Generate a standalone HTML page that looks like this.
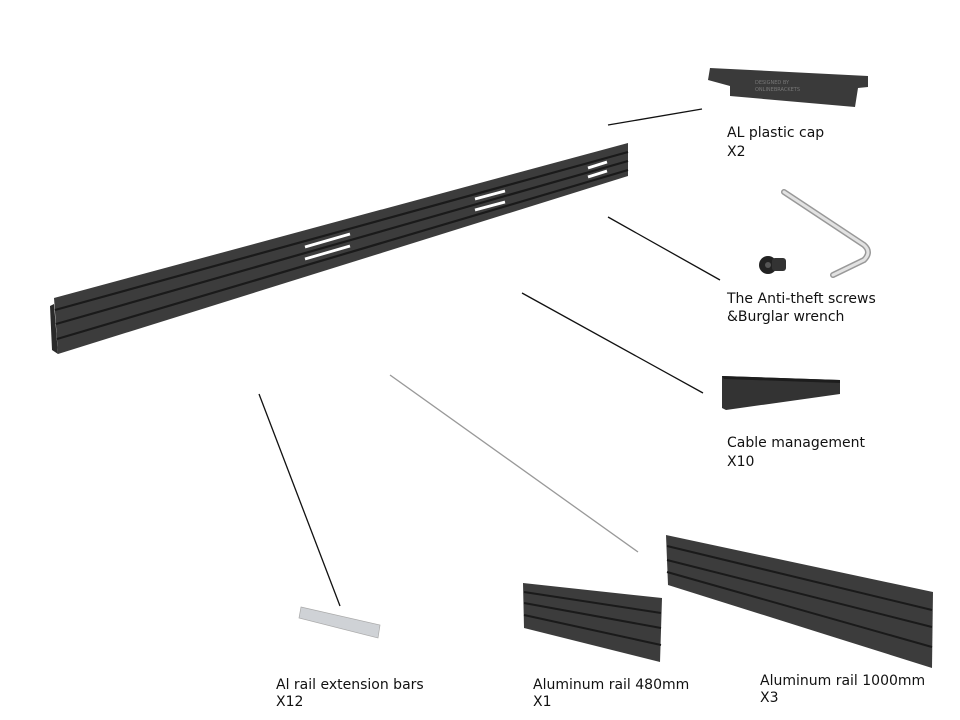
<!DOCTYPE html>
<html><head><style>
html,body{margin:0;padding:0;background:#fff;width:960px;height:720px;overflow:hidden}
svg{display:block}
text{font-family:"DejaVu Sans",Verdana,sans-serif;font-size:14px;fill:#111}
</style></head><body>
<svg width="960" height="720" viewBox="0 0 960 720">
<!-- main rail -->
<polygon points="54,298 628,143 628,176 58,354" fill="#3c3c3c"/>
<polygon points="50,306 54,304 58,354 52,350" fill="#2a2a2a"/>
<g stroke="#1a1a1a" stroke-width="2.2">
<line x1="55" y1="310" x2="628" y2="152"/>
<line x1="56" y1="324" x2="628" y2="161"/>
<line x1="57" y1="339" x2="628" y2="170"/>
</g>
<g stroke="#fff" stroke-width="2.8">
<line x1="305" y1="247" x2="350" y2="234"/><line x1="305" y1="259" x2="350" y2="246"/>
<line x1="475" y1="199" x2="505" y2="191"/><line x1="475" y1="210" x2="505" y2="202"/>
<line x1="588" y1="168" x2="607" y2="162"/><line x1="588" y1="177" x2="607" y2="171"/>
</g>
<!-- leader lines -->
<g stroke="#111" stroke-width="1.3">
<line x1="608" y1="125" x2="702" y2="109"/>
<line x1="608" y1="217" x2="720" y2="280"/>
<line x1="522" y1="293" x2="703" y2="393"/>
<line x1="259" y1="394" x2="340" y2="606"/>
</g>
<line x1="390" y1="375" x2="638" y2="552" stroke="#999" stroke-width="1.3"/>
<!-- plastic cap -->
<polygon points="710,68 868,76 868,87 858,88 855,107 730,96 730,86 708,80" fill="#3a3a3a"/>
<text x="755" y="84" style="font-size:5px;fill:#777">DESIGNED BY</text>
<text x="755" y="91" style="font-size:5px;fill:#777">ONLINEBRACKETS</text>
<!-- screw -->
<circle cx="768" cy="265" r="9" fill="#222"/>
<rect x="772" y="258" width="14" height="13" rx="3" fill="#333"/>
<circle cx="768" cy="265" r="3" fill="#555"/>
<!-- wrench -->
<path d="M784,192 L864,245 Q872,252 864,260 L833,275" stroke="#999" stroke-width="6" fill="none" stroke-linecap="round"/>
<path d="M784,192 L864,245 Q872,252 864,260 L833,275" stroke="#e2e2e2" stroke-width="3" fill="none" stroke-linecap="round"/>
<!-- cable mgmt -->
<polygon points="722,376 840,380 840,394 726,410 722,408" fill="#333"/>
<polygon points="722,376 840,380 840,383 724,379" fill="#1d1d1d"/>
<!-- extension bar -->
<polygon points="301,607 380,625 378,638 299,618" fill="#cfd2d6" stroke="#aaa" stroke-width="0.7"/>
<!-- 480 rail -->
<polygon points="523,583 662,598 660,662 524,628" fill="#3c3c3c"/>
<g stroke="#1a1a1a" stroke-width="2">
<line x1="524" y1="592" x2="661" y2="613"/><line x1="524" y1="603" x2="661" y2="628"/><line x1="524" y1="615" x2="661" y2="645"/>
</g>
<!-- 1000 rail -->
<polygon points="666,535 933,592 932,668 668,585" fill="#3c3c3c"/>
<g stroke="#1a1a1a" stroke-width="2">
<line x1="667" y1="546" x2="932" y2="610"/><line x1="667" y1="560" x2="932" y2="627"/><line x1="667" y1="572" x2="932" y2="647"/>
</g>
<!-- labels -->
<text x="727" y="137">AL plastic cap</text><text x="727" y="156">X2</text>
<text x="727" y="303">The Anti-theft screws</text><text x="727" y="321">&amp;Burglar wrench</text>
<text x="727" y="447">Cable management</text><text x="727" y="466">X10</text>
<text x="276" y="689">Al rail extension bars</text><text x="276" y="706">X12</text>
<text x="533" y="689">Aluminum rail 480mm</text><text x="533" y="706">X1</text>
<text x="760" y="685">Aluminum rail 1000mm</text><text x="760" y="702">X3</text>
</svg>
</body></html>
